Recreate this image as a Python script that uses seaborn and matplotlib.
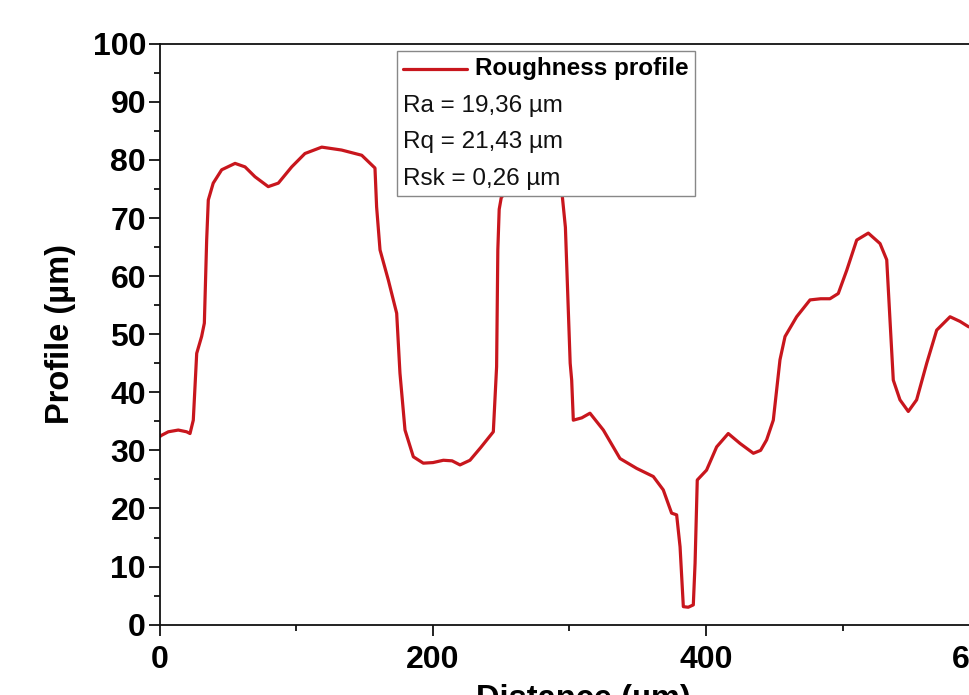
import numpy as np
import pandas as pd
import matplotlib
matplotlib.use("Agg")
import matplotlib.pyplot as plt
import seaborn as sns
from matplotlib.lines import Line2D
from matplotlib.offsetbox import (AnchoredOffsetbox, VPacker, HPacker,
                                  TextArea, DrawingArea)

# ---- data ----
distance = [0, 1.2, 6.1, 13.4, 19.5, 22, 24.4, 26.9, 30.5, 32.5, 34.2, 35.4, 39,
            45.2, 55, 62.3, 69.6, 79.3, 86.7, 96.5, 106.2, 118.5, 133, 147.8,
            157.5, 158.7, 161.2, 167.3, 173.4, 175.8, 179.5, 185.6, 192.9, 200,
            207.6, 214, 219.8, 227.1, 235, 244.2, 246.6, 247.5, 248.5, 250, 252.7,
            256, 262, 272, 283, 290, 294.5, 297, 299, 300.5, 301.6, 302.8, 309,
            315, 324.8, 337, 349.2, 361.4, 368.7, 374.8, 378.5, 381, 383.4, 387,
            390.7, 392, 393.6, 400.4, 407.8, 416.3, 424.9, 434.7, 440, 444.4,
            449.3, 454.2, 457.9, 466.4, 476.2, 484, 490.8, 496.9, 503.1, 510.4,
            518.9, 527.5, 532.4, 534.8, 537.2, 542.1, 548.2, 554.3, 561.7, 569,
            578.8, 586.1, 592.2, 600]
profile = [32.4, 32.6, 33.2, 33.5, 33.2, 32.9, 35.2, 46.7, 49.6, 51.9, 66.2, 73.1,
           76.0, 78.3, 79.4, 78.8, 77.1, 75.4, 76.0, 78.8, 81.1, 82.2, 81.7, 80.8,
           78.6, 71.9, 64.5, 59.3, 53.6, 43.3, 33.5, 28.9, 27.8, 27.9, 28.3, 28.2,
           27.5, 28.3, 30.5, 33.2, 44.4, 64.5, 71.5, 73.5, 74.3, 78.0, 81.0, 82.5,
           82.0, 79.0, 74.3, 68.4, 55.0, 45.0, 42.1, 35.2, 35.6, 36.4, 33.5, 28.6,
           26.9, 25.5, 23.2, 19.2, 18.9, 13.4, 3.1, 3.0, 3.4, 10.6, 24.9, 26.6,
           30.6, 32.9, 31.2, 29.5, 30.0, 31.8, 35.2, 45.6, 49.6, 53.0, 55.9, 56.1,
           56.1, 57.0, 61.0, 66.2, 67.4, 65.6, 62.8, 52.4, 42.1, 38.7, 36.7, 38.7,
           45.0, 50.7, 53.0, 52.2, 51.3, 50.8]
series_label = "Roughness profile"
stats_lines = ["Ra = 19,36 \u00b5m", "Rq = 21,43 \u00b5m", "Rsk = 0,26 \u00b5m"]
x_label = "Distance (\u00b5m)"
y_label = "Profile (\u00b5m)"
x_ticks = [0, 200, 400, 600]
y_ticks = list(range(0, 101, 10))

df = pd.DataFrame({"Distance": distance, "Profile": profile})

sns.set_style("ticks")
plt.rcParams["font.family"] = ["Liberation Sans", "DejaVu Sans"]

line_color = "#c8161d"
fig = plt.figure(figsize=(9.69, 6.95), dpi=100)
ax = fig.add_axes([0.1651, 0.1012, 0.8734, 0.8359])

sns.lineplot(data=df, x="Distance", y="Profile", ax=ax, color=line_color,
             linewidth=2.3, sort=False, solid_joinstyle="round",
             solid_capstyle="round")

ax.set_xlim(0, 620)
ax.set_ylim(0, 100)
ax.set_xticks(x_ticks)
ax.set_xticks([100, 300, 500], minor=True)
ax.set_yticks(y_ticks)
ax.set_yticks(np.arange(5, 100, 10), minor=True)
ax.tick_params(axis="both", which="major", direction="out", length=8, width=1.3,
               labelsize=23, color="#111111", labelcolor="#000000")
ax.tick_params(axis="x", which="major", pad=7)
ax.tick_params(axis="y", which="major", pad=2)
ax.tick_params(axis="both", which="minor", direction="out", length=4.5, width=1.3,
               color="#111111")
for lab in ax.get_xticklabels() + ax.get_yticklabels():
    lab.set_fontweight("bold")
for sp in ax.spines.values():
    sp.set_linewidth(1.3)
    sp.set_color("#111111")

ax.set_xlabel(x_label, fontsize=23.5, fontweight="bold", labelpad=6, color="#000000")
ax.set_ylabel(y_label, fontsize=23.5, fontweight="bold", labelpad=12, color="#000000")

# legend box with stats
da = DrawingArea(46, 12, 0, 0)
da.add_artist(Line2D([0, 46], [6, 6], color=line_color, linewidth=2.3))
head = HPacker(children=[da, TextArea(series_label,
                                      textprops=dict(fontsize=17.5, fontweight="bold",
                                                     color="#000000"))],
               align="center", pad=0, sep=6)
rows = [head] + [TextArea(s, textprops=dict(fontsize=17.5, color="#111111"))
                 for s in stats_lines]
pack = VPacker(children=rows, align="left", pad=0, sep=10.5)
anch = AnchoredOffsetbox(loc="upper left", child=pack, pad=0.45, borderpad=0,
                         frameon=True, bbox_to_anchor=(0.28, 0.9874),
                         bbox_transform=ax.transAxes)
anch.patch.set_edgecolor("#888888")
anch.patch.set_linewidth(1.0)
anch.patch.set_boxstyle("square", pad=0)
ax.add_artist(anch)

fig.savefig("out.png", dpi=100)
